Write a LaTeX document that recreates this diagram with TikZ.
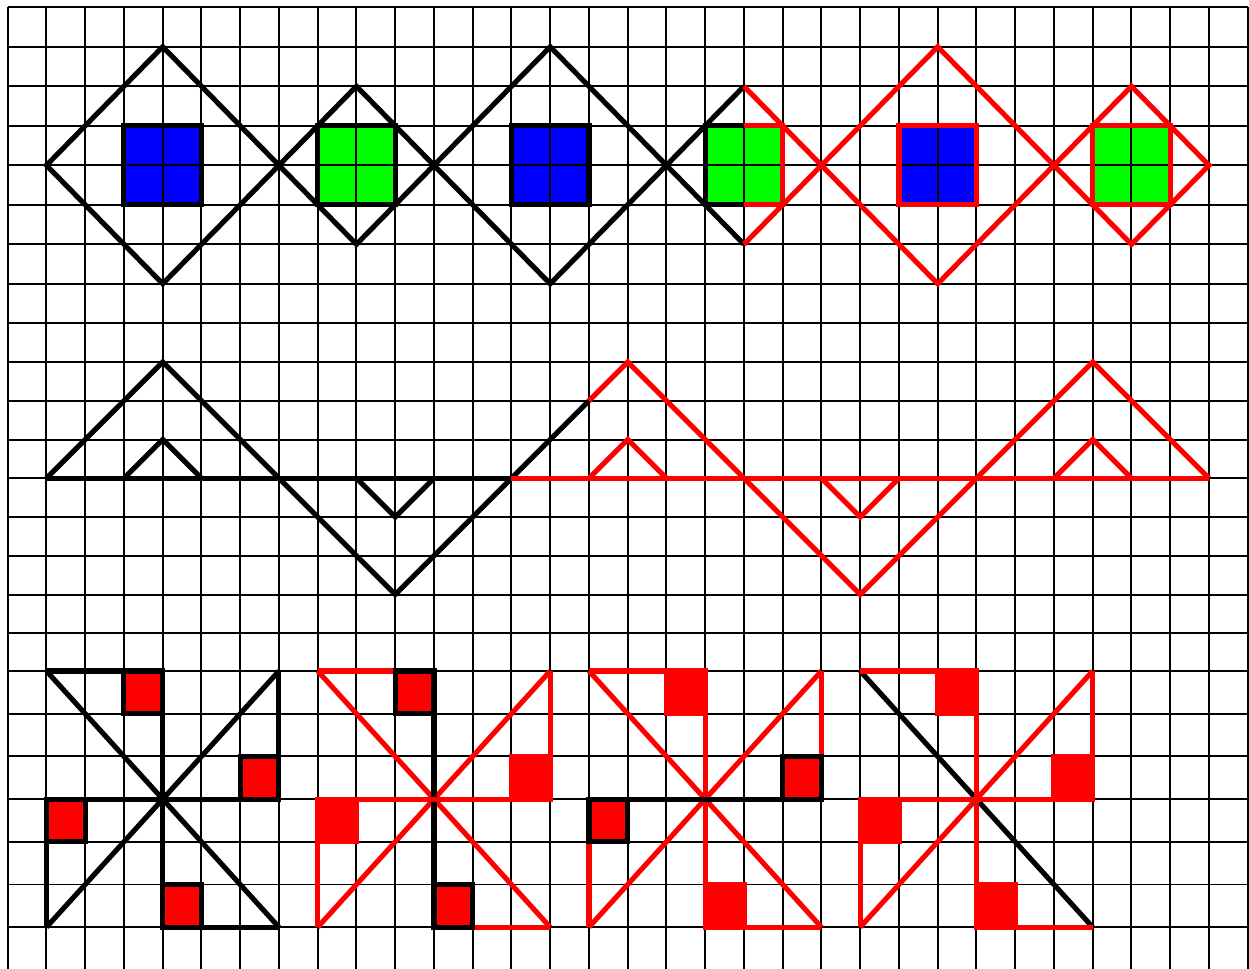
\documentclass[tikz,border=0pt]{standalone}
\usepackage{tikz}

\definecolor{pblue}{RGB}{0,0,255}
\definecolor{pgreen}{RGB}{0,255,0}
\tikzset{
  gridline/.style={black, line width=1.1pt},
  blk/.style={black, line width=2.9pt},
  rd/.style={red, line width=2.9pt},
  toprow/.style={shift={(7.7,7.3)}, xscale=38.75, yscale=39.5},
  midrow/.style={shift={(7.7,13.3)}, xscale=38.75, yscale=38.75},
  botrow/.style={shift={(7.7,-54.9)}, xscale=38.75, yscale=42.7},
}

\begin{document}
\begin{tikzpicture}[x=0.02cm, y=-0.02cm]
\useasboundingbox (0,0) rectangle (1249,969);

% fills under the grid
\begin{scope}[toprow]
  \fill[pblue] (3,3) rectangle (5,5);
  \fill[pgreen] (8,3) rectangle (10,5);
  \fill[pblue] (13,3) rectangle (15,5);
  \fill[pgreen] (18,3) rectangle (20,5);
  \fill[pblue] (23,3) rectangle (25,5);
  \fill[pgreen] (28,3) rectangle (30,5);
\end{scope}

% grid
\foreach \i in {0,...,32}
  \draw[gridline] ({7.7+38.75*\i},7.3) -- ({7.7+38.75*\i},969);
\begin{scope}[toprow]
  \foreach \j in {0,...,8} \draw[gridline] (0,\j) -- (32,\j);
\end{scope}
\begin{scope}[midrow]
  \foreach \j in {9,...,16} \draw[gridline] (0,\j) -- (32,\j);
\end{scope}
\begin{scope}[botrow]
  \foreach \j in {17,...,23} \draw[gridline] (0,\j) -- (32,\j);
\end{scope}

% diamonds
\begin{scope}[toprow]
  \draw[blk] (4,1) -- (7,4) -- (4,7) -- (1,4) -- cycle;
  \draw[blk] (3,3) rectangle (5,5);
  \draw[blk] (9,2) -- (11,4) -- (9,6) -- (7,4) -- cycle;
  \draw[blk] (8,3) rectangle (10,5);
  \draw[blk] (14,1) -- (17,4) -- (14,7) -- (11,4) -- cycle;
  \draw[blk] (13,3) rectangle (15,5);
  \draw[blk] (19,2) -- (17,4) -- (19,6);
  \draw[blk] (19,3) -- (18,3) -- (18,5) -- (19,5);
  \draw[rd] (19,2) -- (21,4) -- (19,6);
  \draw[rd] (19,3) -- (20,3) -- (20,5) -- (19,5);
  \draw[rd] (24,1) -- (27,4) -- (24,7) -- (21,4) -- cycle;
  \draw[rd] (23,3) rectangle (25,5);
  \draw[rd] (29,2) -- (31,4) -- (29,6) -- (27,4) -- cycle;
  \draw[rd] (28,3) rectangle (30,5);
\end{scope}

% triangles
\begin{scope}[midrow]
  \draw[blk] (1,12) -- (13,12);
  \draw[blk] (1,12) -- (4,9) -- (7,12) -- (10,15) -- (13,12) -- (15,10);
  \draw[blk] (3,12) -- (4,11) -- (5,12);
  \draw[blk] (9,12) -- (10,13) -- (11,12);
  \draw[rd] (13,12) -- (31,12);
  \draw[rd] (15,10) -- (16,9) -- (19,12) -- (22,15) -- (25,12) -- (28,9) -- (31,12);
  \draw[rd] (15,12) -- (16,11) -- (17,12);
  \draw[rd] (21,12) -- (22,13) -- (23,12);
  \draw[rd] (27,12) -- (28,11) -- (29,12);
\end{scope}

% pinwheels
\begin{scope}[botrow, shift={(4,20)}]
  \draw[blk] (-3,-3) -- (3,3);
  \draw[blk] (3,-3) -- (-3,3);
  \draw[blk] (0,-3) -- (0,3);
  \draw[blk] (-3,0) -- (3,0);
  \draw[blk] (-3,-3) -- (-1,-3) (3,-3) -- (3,-1) (3,3) -- (1,3) (-3,3) -- (-3,1);
  \draw[blk, fill=red] (-1,-3) rectangle (0,-2);
  \draw[blk, fill=red] (2,-1) rectangle (3,0);
  \draw[blk, fill=red] (0,2) rectangle (1,3);
  \draw[blk, fill=red] (-3,0) rectangle (-2,1);
\end{scope}
\begin{scope}[botrow, shift={(11,20)}]
  \draw[rd] (-3,-3) -- (3,3);
  \draw[rd] (3,-3) -- (-3,3);
  \draw[blk] (0,-3) -- (0,3);
  \draw[rd] (-3,0) -- (3,0);
  \draw[rd] (-3,-3) -- (-1,-3) (3,-3) -- (3,-1) (3,3) -- (1,3) (-3,3) -- (-3,1);
  \draw[blk, fill=red] (-1,-3) rectangle (0,-2);
  \draw[rd, fill=red] (2,-1) rectangle (3,0);
  \draw[blk, fill=red] (0,2) rectangle (1,3);
  \draw[rd, fill=red] (-3,0) rectangle (-2,1);
\end{scope}
\begin{scope}[botrow, shift={(18,20)}]
  \draw[rd] (-3,-3) -- (3,3);
  \draw[rd] (3,-3) -- (-3,3);
  \draw[rd] (0,-3) -- (0,3);
  \draw[blk] (-3,0) -- (3,0);
  \draw[rd] (-3,-3) -- (-1,-3) (3,-3) -- (3,-1) (3,3) -- (1,3) (-3,3) -- (-3,1);
  \draw[rd, fill=red] (-1,-3) rectangle (0,-2);
  \draw[blk, fill=red] (2,-1) rectangle (3,0);
  \draw[rd, fill=red] (0,2) rectangle (1,3);
  \draw[blk, fill=red] (-3,0) rectangle (-2,1);
\end{scope}
\begin{scope}[botrow, shift={(25,20)}]
  \draw[blk] (-3,-3) -- (3,3);
  \draw[rd] (3,-3) -- (-3,3);
  \draw[rd] (0,-3) -- (0,3);
  \draw[rd] (-3,0) -- (3,0);
  \draw[rd] (-3,-3) -- (-1,-3) (3,-3) -- (3,-1) (3,3) -- (1,3) (-3,3) -- (-3,1);
  \draw[rd, fill=red] (-1,-3) rectangle (0,-2);
  \draw[rd, fill=red] (2,-1) rectangle (3,0);
  \draw[rd, fill=red] (0,2) rectangle (1,3);
  \draw[rd, fill=red] (-3,0) rectangle (-2,1);
\end{scope}
\end{tikzpicture}
\end{document}
